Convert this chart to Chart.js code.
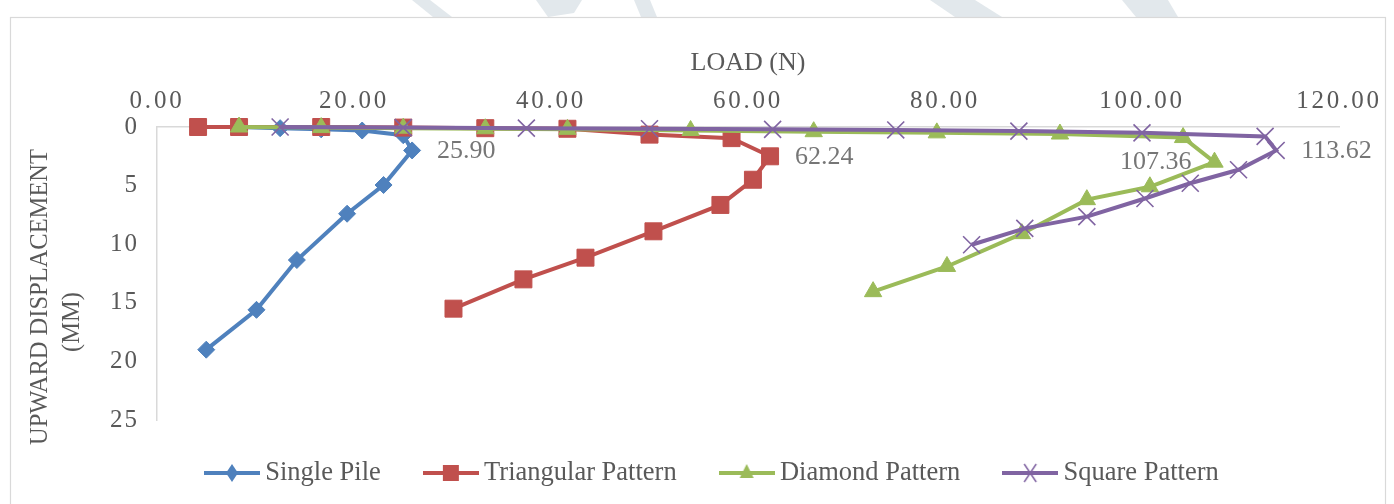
<!DOCTYPE html>
<html>
<head>
<meta charset="utf-8">
<title>Uplift load vs displacement</title>
<script src="https://cdn.jsdelivr.net/npm/chart.js@4.4.1/dist/chart.umd.min.js"></script>
<style>
  html, body { margin: 0; padding: 0; background: #ffffff; }
  #wrap { width: 1394px; height: 504px; }
</style>
</head>
<body>
<div id="wrap"><canvas id="chart" width="1394" height="504"></canvas></div>
<script>
// ---- data: uplift load (N) and upward displacement (mm) per pile group ----
const seriesNames = ['Single Pile', 'Triangular Pattern', 'Diamond Pattern', 'Square Pattern'];

const singleLoad = [4.17, 8.33, 12.50, 16.67, 20.83, 25.00, 25.90, 23.00, 19.30, 14.20, 10.10, 5.00];
const singleDisp = [0.00, 0.00, 0.10, 0.20, 0.30, 0.70, 2.00, 4.95, 7.40, 11.35, 15.60, 19.00];

const triLoad = [4.17, 8.33, 16.67, 25.00, 33.33, 41.67, 50.00, 58.33, 62.24, 60.50, 57.20, 50.40, 43.50, 37.20, 30.10];
const triDisp = [0.00, 0.00, 0.00, 0.05, 0.10, 0.15, 0.65, 0.95, 2.50, 4.50, 6.65, 8.90, 11.15, 13.00, 15.50];

const diaLoad = [8.33, 16.67, 25.00, 33.33, 41.67, 54.17, 66.67, 79.17, 91.67, 104.17, 107.36, 100.80, 94.40, 87.80, 80.20, 72.70];
const diaDisp = [0.00, 0.05, 0.10, 0.15, 0.20, 0.30, 0.40, 0.50, 0.60, 0.90, 3.00, 5.10, 6.20, 9.10, 11.90, 14.05];

const sqLoad = [12.50, 25.00, 37.50, 50.00, 62.50, 75.00, 87.50, 100.00, 112.50, 113.62, 109.80, 104.90, 100.30, 94.40, 88.10, 82.70];
const sqDisp = [0.00, 0.05, 0.10, 0.15, 0.20, 0.25, 0.35, 0.50, 0.80, 2.00, 3.65, 4.80, 6.10, 7.65, 8.65, 10.05];

const loadTicks = [0, 20, 40, 60, 80, 100, 120];
const dispTicks = [0, 5, 10, 15, 20, 25];

// ---- styling ----
const FONT = '"Liberation Serif", "Times New Roman", serif';
const TEXT = '#595959';
const LABEL = '#767676';
const AXIS = '#d9d9d9';
const COLORS = ['#4f81bd', '#c0504d', '#9bbb59', '#8064a2'];
const STYLES = ['rectRot', 'rect', 'triangle', 'crossRot'];
const RADII = [8.5, 12, 10, 12];

function points(xs, ys) {
  return xs.map((x, i) => ({ x: x, y: ys[i] }));
}

// Linear scale whose tick labels are drawn with a little letter spacing
const TICK_SPACING = { x: '2.8px', y: '2px' };
class SpacedLinearScale extends Chart.LinearScale {
  drawLabels(area) {
    const ctx = this.ctx;
    ctx.save();
    ctx.letterSpacing = TICK_SPACING[this.id] || '0px';
    super.drawLabels(area);
    ctx.restore();
  }
}
SpacedLinearScale.id = 'spacedLinear';
SpacedLinearScale.defaults = Chart.LinearScale.defaults;
Chart.register(SpacedLinearScale);

// legend symbol: short line with the series marker in the middle
function legendSymbol(idx) {
  const c = document.createElement('canvas');
  c.width = 56; c.height = 22;
  const g = c.getContext('2d');
  const col = COLORS[idx];
  const cx = 28, cy = 11;
  g.strokeStyle = col; g.fillStyle = col; g.lineWidth = 4;
  g.beginPath(); g.moveTo(0, cy); g.lineTo(56, cy); g.stroke();
  g.beginPath();
  if (idx === 0) {
    g.moveTo(cx, cy - 9); g.lineTo(cx + 6, cy); g.lineTo(cx, cy + 9); g.lineTo(cx - 6, cy); g.closePath(); g.fill();
  } else if (idx === 1) {
    g.rect(cx - 8, cy - 8, 16, 16); g.fill();
  } else if (idx === 2) {
    g.moveTo(cx, cy - 9); g.lineTo(cx + 7, cy + 5); g.lineTo(cx - 7, cy + 5); g.closePath(); g.fill();
  } else {
    g.lineWidth = 1.5;
    g.moveTo(cx - 6, cy - 9); g.lineTo(cx + 6, cy + 9);
    g.moveTo(cx + 6, cy - 9); g.lineTo(cx - 6, cy + 9); g.stroke();
  }
  return c;
}
const symbols = [0, 1, 2, 3].map(legendSymbol);

function makeDataset(i, xs, ys) {
  const isCross = STYLES[i] === 'crossRot';
  return {
    label: seriesNames[i],
    data: points(xs, ys),
    showLine: true,
    borderColor: COLORS[i],
    backgroundColor: COLORS[i],
    borderWidth: 4,
    pointStyle: STYLES[i],
    pointRadius: RADII[i],
    pointHoverRadius: RADII[i],
    pointBackgroundColor: COLORS[i],
    pointBorderColor: COLORS[i],
    pointBorderWidth: isCross ? 1.6 : 1,
    clip: false,
    order: 3 - i
  };
}

// page backdrop (faint emblem strokes) and the outer frame of the chart
const backdrop = [
  [[412, 0], [430, 0], [452, 17], [433, 17]],
  [[536, 0], [582, 0], [574, 13], [548, 17]],
  [[634, 0], [650, 0], [657, 17], [641, 17]],
  [[930, 0], [975, 0], [1002, 17], [955, 17]],
  [[1122, 0], [1168, 0], [1178, 17], [1136, 17]]
];
const framePlugin = {
  id: 'frame',
  beforeDraw(chart) {
    const ctx = chart.ctx;
    ctx.save();
    ctx.fillStyle = '#ffffff';
    ctx.fillRect(0, 0, chart.width, chart.height);
    ctx.fillStyle = '#e2e8ec';
    backdrop.forEach(poly => {
      ctx.beginPath();
      poly.forEach((p, k) => (k ? ctx.lineTo(p[0], p[1]) : ctx.moveTo(p[0], p[1])));
      ctx.closePath();
      ctx.fill();
    });
    ctx.fillStyle = '#ffffff';
    ctx.fillRect(10, 17, 1376, 500);
    ctx.strokeStyle = AXIS;
    ctx.lineWidth = 1.2;
    ctx.strokeRect(10.5, 17.5, 1375, 520);
    ctx.restore();
  }
};

// vertical axis title on two lines
const yTitlePlugin = {
  id: 'yTitle',
  afterDraw(chart) {
    const ctx = chart.ctx;
    ctx.save();
    ctx.fillStyle = TEXT;
    ctx.font = '24.5px ' + FONT;
    ctx.textAlign = 'center';
    ctx.textBaseline = 'middle';
    ctx.translate(41, 297);
    ctx.rotate(-Math.PI / 2);
    ctx.fillText('UPWARD DISPLACEMENT', 0, 0);
    ctx.fillText('(MM)', -25, 32);
    ctx.restore();
  }
};

// value label at the peak load of each series
const peakSide = ['right', 'right', 'left', 'right'];
const peakLabelPlugin = {
  id: 'peakLabels',
  afterDatasetsDraw(chart) {
    const ctx = chart.ctx;
    ctx.save();
    ctx.font = '26px ' + FONT;
    ctx.fillStyle = LABEL;
    ctx.textBaseline = 'middle';
    chart.data.datasets.forEach((ds, i) => {
      let best = 0;
      ds.data.forEach((p, j) => { if (p.x > ds.data[best].x) best = j; });
      const el = chart.getDatasetMeta(i).data[best];
      const text = ds.data[best].x.toFixed(2);
      if (peakSide[i] === 'right') {
        ctx.textAlign = 'left';
        ctx.fillText(text, el.x + 25, el.y + 1);
      } else {
        ctx.textAlign = 'right';
        ctx.fillText(text, el.x - 23, el.y);
      }
    });
    ctx.restore();
  }
};

// place the legend row: first symbol starts at x = 204, text centred on y = 473
const LEGEND_PAD = 50;
const SYMBOL_BOX = 40;
const legendPlacePlugin = {
  id: 'legendPlace',
  afterLayout(chart) {
    const lg = chart.legend;
    if (!lg || !lg.lineWidths) return;
    const lineW = lg.lineWidths[0];
    const firstBox = 204 + (56 - SYMBOL_BOX) / 2;
    const dx = (2 * firstBox - LEGEND_PAD + lineW - (lg.left + lg.right)) / 2;
    lg.left += dx; lg.right += dx;
    const dy = 473 - (lg.top + LEGEND_PAD + 13.25);
    lg.top += dy;
    lg.bottom = chart.height;
    lg.height = lg.bottom - lg.top;
  }
};

new Chart(document.getElementById('chart'), {
  type: 'scatter',
  data: {
    datasets: [
      makeDataset(0, singleLoad, singleDisp),
      makeDataset(1, triLoad, triDisp),
      makeDataset(2, diaLoad, diaDisp),
      makeDataset(3, sqLoad, sqDisp)
    ]
  },
  options: {
    responsive: false,
    devicePixelRatio: 1,
    animation: false,
    layout: { padding: { left: 0, top: 0, right: 55, bottom: 10 } },
    scales: {
      x: {
        type: 'spacedLinear',
        position: 'top',
        min: 0, max: 120,
        afterBuildTicks(scale) { scale.ticks = loadTicks.map(v => ({ value: v })); },
        afterFit(scale) { scale.height = 127; },
        grid: { display: false, drawTicks: false },
        border: { display: true, color: AXIS, width: 1.5 },
        ticks: {
          padding: 11,
          color: TEXT,
          font: { family: FONT, size: 25 },
          maxRotation: 0,
          callback: v => Number(v).toFixed(2)
        },
        title: {
          display: true,
          text: 'LOAD (N)',
          color: TEXT,
          font: { family: FONT, size: 26 },
          padding: { top: 48, bottom: 0 }
        }
      },
      y: {
        type: 'spacedLinear',
        position: 'left',
        reverse: true,
        min: 0, max: 25,
        afterBuildTicks(scale) { scale.ticks = dispTicks.map(v => ({ value: v })); },
        afterFit(scale) { scale.width = 157; },
        grid: { display: false, drawTicks: false },
        border: { display: true, color: AXIS, width: 1.5 },
        ticks: {
          padding: 18,
          color: TEXT,
          font: { family: FONT, size: 25 },
          callback: v => String(v)
        },
        title: { display: false }
      }
    },
    plugins: {
      tooltip: { enabled: false },
      legend: {
        position: 'bottom',
        maxHeight: 74,
        labels: {
          usePointStyle: true,
          pointStyleWidth: SYMBOL_BOX,
          padding: LEGEND_PAD,
          color: TEXT,
          font: { family: FONT, size: 26.5 },
          sort: (a, b) => a.datasetIndex - b.datasetIndex,
          generateLabels(chart) {
            const items = Chart.defaults.plugins.legend.labels.generateLabels(chart);
            items.forEach(it => { it.pointStyle = symbols[it.datasetIndex]; it.fontColor = TEXT; });
            return items;
          }
        }
      }
    }
  },
  plugins: [framePlugin, yTitlePlugin, peakLabelPlugin, legendPlacePlugin]
});
</script>
</body>
</html>
